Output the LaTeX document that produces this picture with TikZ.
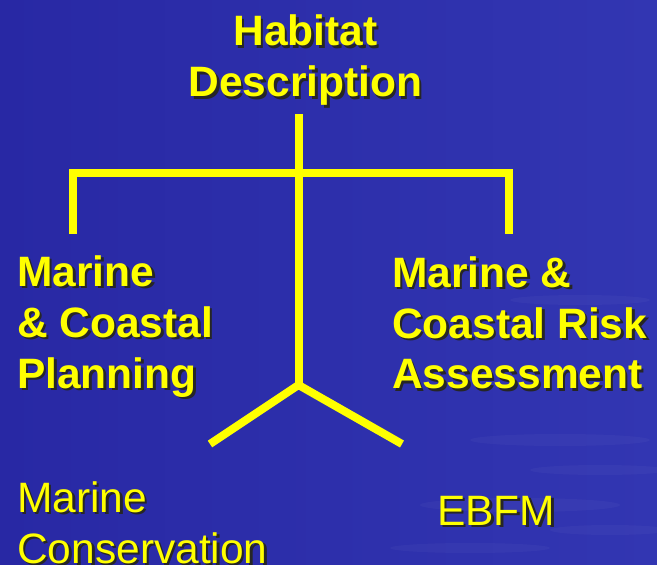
\documentclass[tikz,border=0pt]{standalone}
\usepackage{fontspec}
\setmainfont{Liberation Sans}
\definecolor{seablue}{RGB}{40,40,164}
\definecolor{seablueb}{RGB}{50,54,178}
\definecolor{hyellow}{RGB}{255,255,0}
\newcommand{\shd}[1]{\makebox[0pt][l]{\hspace{2.5pt}\raisebox{-2.5pt}{\textcolor{black!85}{#1}}}#1}
\tikzset{
  x=1pt,y=1pt,
  bigtxt/.style={inner sep=0pt, anchor=north west, align=left, text=hyellow,
    font=\fontsize{42.5}{51}\selectfont\bfseries},
  smalltxt/.style={inner sep=0pt, anchor=north west, align=left, text=hyellow,
    font=\fontsize{42.5}{51}\selectfont},
  branch/.style={draw=hyellow, line width=8pt, line join=miter, line cap=butt}
}
\begin{document}
\begin{tikzpicture}
  % background
  \useasboundingbox (0,0) rectangle (657,-565);
  \shade[left color=seablue, right color=seablueb] (0,0) rectangle (657,-565);
  \begin{scope}[fill=white, opacity=0.03]
    \fill (560,-440) ellipse (90 and 6);
    \fill (600,-470) ellipse (70 and 5);
    \fill (520,-505) ellipse (100 and 7);
    \fill (610,-530) ellipse (60 and 5);
    \fill (470,-548) ellipse (80 and 5);
    \fill (580,-300) ellipse (70 and 5);
  \end{scope}

  % connectors
  \coordinate (stemtop) at (298.5,-114);
  \coordinate (apex) at (298.5,-385);
  \coordinate (lcorner) at (73,-173);
  \coordinate (rcorner) at (508.5,-173);
  \coordinate (ldrop) at (73,-234);
  \coordinate (rdrop) at (508.5,-234);
  \coordinate (lleg) at (210,-444);
  \coordinate (rleg) at (402,-444);

  \draw[branch] (ldrop) -- (lcorner) -- (rcorner) -- (rdrop);
  \draw[branch] (stemtop) -- (apex);
  \draw[branch] (lleg) -- (apex) -- (rleg);

  % text
  \node[bigtxt, anchor=north, align=center] (hab) at (305.5,-15) {\shd{Habitat}\\\shd{Description}};
  \node[bigtxt] (lp) at (17,-255.5) {\shd{Marine}\\\shd{\& Coastal}\\\shd{Planning}};
  \node[bigtxt] (rp) at (392,-256) {\shd{Marine \&}\\\shd{Coastal Risk}\\\shd{Assessment}};
  \node[smalltxt] (mc) at (17,-481) {\shd{Marine}\\\shd{Conservation}};
  \node[smalltxt] (eb) at (437,-496) {\shd{EBFM}};
\end{tikzpicture}
\end{document}
